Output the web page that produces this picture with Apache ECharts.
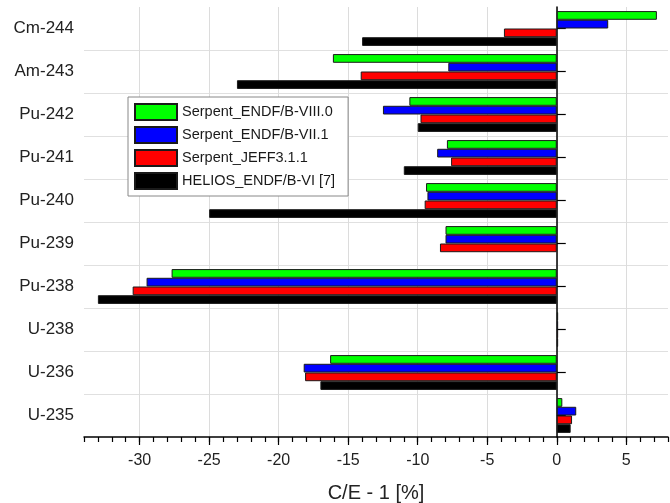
<!DOCTYPE html>
<html>
<head>
<meta charset="utf-8">
<script src="https://cdn.jsdelivr.net/npm/echarts@6/dist/echarts.min.js"></script>
<style>
  html, body { margin: 0; padding: 0; background: #fff; }
  #chart { width: 670px; height: 503px; }
</style>
</head>
<body>
<div id="chart"></div>
<script>
const categories = ['Cm-244', 'Am-243', 'Pu-242', 'Pu-241', 'Pu-240', 'Pu-239', 'Pu-238', 'U-238', 'U-236', 'U-235']
const seriesNames = ['Serpent_ENDF/B-VIII.0', 'Serpent_ENDF/B-VII.1', 'Serpent_JEFF3.1.1', 'HELIOS_ENDF/B-VI [7]']
const endf80 = [7.2, -16.1, -10.6, -7.9, -9.4, -8.0, -27.7, 0.1, -16.3, 0.4]
const endf71 = [3.7, -7.8, -12.5, -8.6, -9.3, -8.0, -29.5, 0.1, -18.2, 1.4]
const jeff311 = [-3.8, -14.1, -9.8, -7.6, -9.5, -8.4, -30.5, 0.1, -18.1, 1.1]
const helios = [-14.0, -23.0, -10.0, -11.0, -25.0, '-', -33.0, 0.1, -17.0, 1.0]
const majorTicks = [-30, -25, -20, -15, -10, -5, 0, 5]
const colors = ['#00ff00', '#0000ff', '#ff0000', '#000000']

const font = 'Liberation Sans, Arial, sans-serif'
const chart = echarts.init(document.getElementById('chart'))

const makeSeries = (name, data) => ({
  name: name,
  type: 'bar',
  data: data,
  barGap: 0,
  barCategoryGap: '19%',
  itemStyle: { borderColor: '#1a1a1a', borderWidth: 1 }
})

// minor ticks every 1 from -34; only every 5th split line (-30, -25, ...) is drawn
const gridColors = ['rgba(0,0,0,0)', 'rgba(0,0,0,0)', 'rgba(0,0,0,0)', 'rgba(0,0,0,0)', '#dcdcdc']

const option = {
  animation: false,
  color: colors,
  textStyle: { fontFamily: font },
  grid: { left: 84, right: 2, top: 7, bottom: 66, containLabel: false, outerBoundsMode: 'none' },
  legend: {
    orient: 'vertical',
    left: 128,
    top: 97,
    padding: [6, 13, 6, 6],
    icon: 'rect',
    itemWidth: 42,
    itemHeight: 16,
    itemGap: 5,
    backgroundColor: '#fff',
    borderColor: '#888',
    borderWidth: 1,
    textStyle: { fontSize: 14.5, color: '#1a1a1a', fontFamily: font },
    data: seriesNames
  },
  xAxis: [
    {
      type: 'value',
      position: 'bottom',
      min: -34,
      max: 8,
      interval: 1,
      axisLine: { show: true, onZero: false, lineStyle: { color: '#000', width: 1.5 } },
      axisTick: { show: true, length: 5, lineStyle: { color: '#000', width: 1.2 } },
      axisLabel: { show: false },
      splitLine: { show: true, lineStyle: { color: gridColors, width: 1 } }
    },
    {
      type: 'value',
      position: 'bottom',
      min: -34,
      max: 8,
      splitNumber: 8,
      axisLine: { show: false, onZero: false },
      axisTick: { show: true, length: 8, customValues: majorTicks, lineStyle: { color: '#000', width: 1.2 } },
      axisLabel: {
        customValues: majorTicks,
        fontSize: 16,
        color: '#222',
        margin: 16,
        fontFamily: font
      },
      splitLine: { show: false },
      name: 'C/E - 1 [%]',
      nameLocation: 'middle',
      nameGap: 46,
      nameTextStyle: { fontSize: 20, color: '#222', fontFamily: font }
    }
  ],
  yAxis: [
    {
      type: 'category',
      data: categories,
      inverse: true,
      position: 'left',
      axisLine: { show: false, onZero: false },
      axisTick: { show: false },
      axisLabel: { fontSize: 17, color: '#222', margin: 10, fontFamily: font },
      splitLine: { show: true, showMinLine: false, showMaxLine: false, lineStyle: { color: '#e0e0e0', width: 1 } }
    },
    {
      type: 'category',
      data: categories,
      inverse: true,
      position: 'left',
      axisLine: { show: true, onZero: true, lineStyle: { color: '#000', width: 1.5 } },
      axisTick: { show: true, inside: true, alignWithLabel: true, length: 9, lineStyle: { color: '#000', width: 1.2 } },
      axisLabel: { show: false },
      splitLine: { show: false }
    }
  ],
  series: [
    makeSeries(seriesNames[0], endf80),
    makeSeries(seriesNames[1], endf71),
    makeSeries(seriesNames[2], jeff311),
    makeSeries(seriesNames[3], helios)
  ]
}

chart.setOption(option)
</script>
</body>
</html>
